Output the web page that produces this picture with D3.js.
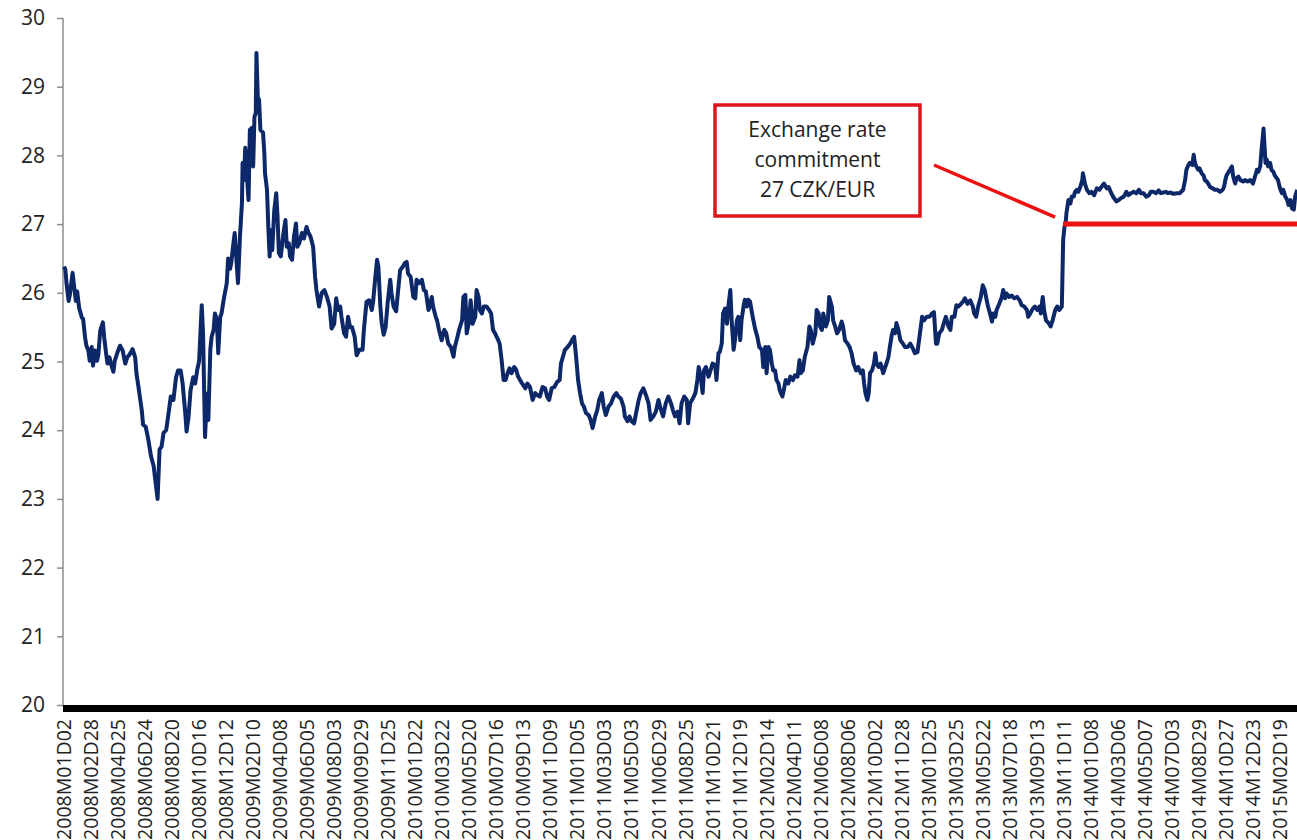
<!DOCTYPE html>
<html>
<head>
<meta charset="utf-8">
<script src="https://cdn.jsdelivr.net/npm/d3@7"></script>
<style>
  body { margin: 0; background: #fff; }
  svg { display: block; font-family: "Open Sans", sans-serif; }
</style>
</head>
<body>
<div id="chart"></div>
<script>
// trading day number (0 = 2008-01-02) and CZK per EUR
var obsDay = [0,2,4,7,9,13,15,18,20,23,27,29,32,34,37,39,42,44,47,50,52,55,59,61,64,66,69,72,75,77,81,85,89,93,96,100,104,108,110,113,115,118,120,124,128,132,136,139,142,145,148,151,155,158,162,166,170,173,177,180,184,186,189,192,196,199,202,205,
209,211,214,217,219,222,224,227,229,232,234,237,239,243,247,249,252,254,257,259,262,264,267,270,271,273,275,277,280,282,285,287,289,291,292,294,296,298,302,304,305,308,310,312,314,316,319,322,324,326,329,333,336,338,341,343,346,349,352,354,357,361,364,368,371,374,378,381,383,387,391,395,399,
403,406,410,413,416,419,421,425,428,431,434,437,441,444,448,453,455,459,463,467,469,472,475,477,480,482,485,488,491,495,497,500,504,507,510,514,517,520,522,526,530,533,535,539,543,546,549,553,555,558,560,564,566,569,573,577,580,583,587,591,593,597,600,604,606,609,611,614,617,620,624,626,629,631,634,637,641,645,648,651,654,658,661,664,667,670,673,676,679,683,686,689,692,695,700,703,707,711,715,718,722,726,730,733,736,740,744,748,752,754,757,760,764,
768,772,774,777,780,783,786,789,792,796,799,802,806,809,812,816,819,822,826,830,834,838,841,845,849,851,855,858,861,865,868,872,875,879,883,887,890,894,898,902,905,909,913,917,921,924,927,931,934,937,941,945,947,950,954,958,961,963,966,969,971,974,978,981,984,988,990,993,995,998,1000,1003,1006,1008,1011,1013,1016,1018,1021,1023,1026,1028,1031,1033,1036,1038,1041,1044,1046,1049,1052,1055,1059,1061,1064,1066,1069,1071,1074,1076,1079,1081,1084,1086,1090,1092,1095,1099,1102,1106,1109,1113,1116,1118,1121,1124,1128,1131,1133,1136,1140,1142,1145,
1147,1150,1152,1156,1159,1161,1165,1167,1170,1173,1176,1180,1182,1185,1189,1192,1195,1198,1202,1205,1209,1212,1214,1216,1219,1221,1223,1226,1229,1231,1233,1236,1239,1243,1246,1248,1251,1253,1256,1258,1261,1263,1266,1269,1273,1276,1280,1284,1288,1291,1295,1298,1302,1305,1309,1313,1317,1320,1323,1325,1328,1332,1335,1338,1342,1345,1347,1351,1354,1357,1361,1364,1367,1371,1375,1379,1381,1384,1387,1391,1394,1397,1400,1402,1405,1408,1410,1413,1415,1419,1423,1425,1428,1430,1434,1438,1442,1446,1450,1453,1457,1461,1463,1466,1470,1473,1477,1480,1482,1485,1487,1490,1494,1497,1500,1504,1507,1510,1514,1516,1518,1520,
1521,1524,1527,1529,1532,1534,1537,1539,1542,1545,1546,1549,1552,1556,1559,1563,1567,1571,1574,1578,1582,1585,1589,1593,1597,1600,1604,1608,1612,1615,1619,1623,1627,1631,1634,1638,1642,1646,1649,1653,1657,1661,1664,1668,1672,1675,1679,1683,1688,1693,1698,1701,1703,1706,1708,1712,1714,1716,1718,1721,1723,1726,1729,1731,1734,1736,1739,1743,1746,1750,1754,1758,1760,1762,1764,1767,1769,1772,1774,1777,1779,1782,1785,1789,1792,1796,1800,1804,1807,1810,1812,1815,1817,1820,1821,1823,1825,1827,1830,1832,1835,1837,1840,1842,1845,1848,1850,1853,1856,1858,1861,1863,1866,1868,1871];

var eurCzk = [26.38,26.34,26.12,25.88,25.98,26.29,26.12,25.88,26.02,25.78,25.64,25.62,25.35,25.23,25.16,25.01,25.21,24.94,25.16,25.01,25.09,25.45,25.57,25.35,25.11,24.97,25.06,24.94,24.85,25.01,25.13,25.23,25.16,24.97,25.06,25.11,25.18,25.06,24.82,24.63,24.49,24.29,24.08,24.05,23.86,23.62,23.48,23.24,23.00,23.72,23.76,23.96,24.00,24.20,24.49,24.44,24.77,24.87,24.87,24.68,24.25,23.98,24.20,24.58,24.77,24.68,24.87,25.01,
25.82,25.40,23.90,24.53,24.15,25.17,25.36,25.46,25.70,25.60,25.12,25.65,25.70,25.94,26.14,26.50,26.35,26.45,26.72,26.87,26.43,26.14,26.82,27.31,27.89,27.64,28.11,27.79,27.35,28.37,28.40,27.84,28.56,28.62,29.49,28.85,28.81,28.37,28.33,28.03,27.74,27.50,26.96,26.53,26.91,26.62,27.20,27.45,27.11,26.58,26.53,26.87,27.06,26.67,26.72,26.53,26.48,26.82,27.01,26.67,26.72,26.87,26.79,26.96,26.87,26.82,26.67,26.23,26.04,25.80,26.00,26.04,25.94,
25.80,25.48,25.55,25.92,25.75,25.80,25.65,25.41,25.36,25.65,25.50,25.50,25.36,25.09,25.17,25.17,25.46,25.87,25.89,25.75,25.87,26.19,26.48,26.38,25.80,25.56,25.39,25.50,25.85,26.19,25.99,25.80,25.73,26.04,26.33,26.38,26.43,26.45,26.28,26.23,25.94,25.92,26.19,26.14,26.19,26.04,26.02,25.75,25.80,25.94,25.80,25.65,25.60,25.46,25.31,25.46,25.41,25.26,25.21,25.07,25.21,25.36,25.48,25.60,25.94,25.97,25.41,25.55,25.89,25.55,25.65,26.04,25.94,25.75,25.70,25.80,25.80,25.75,25.70,25.46,25.41,25.33,25.26,25.02,24.73,24.73,24.83,24.90,24.83,24.92,24.88,24.78,24.73,24.68,24.61,24.68,24.63,24.44,24.54,24.51,24.49,24.63,24.61,24.49,24.44,24.61,24.63,24.70,24.73,24.97,25.07,25.17,25.21,
25.26,25.33,25.36,25.07,24.73,24.54,24.39,24.34,24.25,24.22,24.15,24.03,24.20,24.29,24.44,24.54,24.34,24.22,24.34,24.39,24.49,24.54,24.49,24.46,24.34,24.20,24.13,24.20,24.13,24.10,24.25,24.44,24.54,24.61,24.51,24.39,24.15,24.20,24.27,24.44,24.32,24.20,24.39,24.49,24.39,24.29,24.20,24.27,24.10,24.39,24.49,24.44,24.10,24.39,24.46,24.54,24.73,24.92,24.78,24.54,24.87,24.92,24.78,24.87,24.97,24.95,24.73,25.12,25.14,25.26,25.70,25.77,25.55,25.80,26.04,25.60,25.17,25.31,25.60,25.65,25.31,25.60,25.80,25.90,25.80,25.90,25.87,25.70,25.60,25.46,25.36,25.21,25.17,24.92,25.21,24.83,25.21,25.17,24.97,24.87,24.87,24.73,24.68,24.58,24.49,24.58,24.73,24.68,24.78,24.73,24.80,24.78,25.02,24.83,24.87,25.07,25.21,25.51,25.46,25.26,25.41,25.75,25.70,
25.51,25.46,25.70,25.51,25.60,25.94,25.80,25.60,25.51,25.41,25.46,25.58,25.51,25.31,25.26,25.21,25.12,24.97,24.87,24.92,24.83,24.87,24.68,24.54,24.44,24.54,24.83,24.87,24.97,25.12,24.97,24.92,24.97,24.83,24.92,24.97,25.07,25.21,25.39,25.46,25.41,25.56,25.46,25.31,25.26,25.21,25.21,25.26,25.19,25.12,25.14,25.36,25.65,25.60,25.65,25.65,25.70,25.72,25.26,25.26,25.41,25.46,25.56,25.65,25.51,25.46,25.65,25.65,25.82,25.80,25.84,25.87,25.92,25.84,25.89,25.80,25.70,25.65,25.80,25.94,26.11,26.04,25.89,25.80,25.70,25.58,25.70,25.65,25.75,25.84,25.94,26.04,25.92,25.99,25.94,25.96,25.92,25.94,25.89,25.82,25.80,25.75,25.65,25.70,25.77,25.80,25.75,25.80,25.70,25.94,25.75,25.60,25.56,25.51,25.60,25.75,25.80,25.75,25.80,26.77,26.96,27.04,
27.16,27.35,27.30,27.40,27.40,27.47,27.50,27.47,27.54,27.64,27.74,27.59,27.50,27.45,27.47,27.42,27.52,27.50,27.54,27.59,27.52,27.54,27.45,27.38,27.33,27.35,27.38,27.40,27.47,27.42,27.45,27.47,27.45,27.50,27.45,27.45,27.40,27.42,27.47,27.47,27.45,27.49,27.45,27.46,27.47,27.45,27.46,27.44,27.45,27.45,27.50,27.64,27.79,27.86,27.89,27.86,28.01,27.89,27.84,27.79,27.81,27.74,27.71,27.64,27.62,27.59,27.54,27.52,27.50,27.50,27.47,27.50,27.54,27.64,27.71,27.76,27.79,27.84,27.69,27.59,27.67,27.69,27.64,27.62,27.64,27.62,27.64,27.59,27.69,27.79,27.76,27.84,28.08,28.39,28.22,27.89,27.94,27.84,27.89,27.79,27.76,27.71,27.67,27.64,27.52,27.45,27.50,27.40,27.35,27.28,27.35,27.23,27.21,27.40,27.50];

// category labels, one every 41 trading days
var tickLabels = ["2008M01D02","2008M02D28","2008M04D25","2008M06D24","2008M08D20","2008M10D16","2008M12D12",
  "2009M02D10","2009M04D08","2009M06D05","2009M08D03","2009M09D29","2009M11D25",
  "2010M01D22","2010M03D22","2010M05D20","2010M07D16","2010M09D13","2010M11D09",
  "2011M01D05","2011M03D03","2011M05D03","2011M06D29","2011M08D25","2011M10D21","2011M12D19",
  "2012M02D14","2012M04D11","2012M06D08","2012M08D06","2012M10D02","2012M11D28",
  "2013M01D25","2013M03D25","2013M05D22","2013M07D18","2013M09D13","2013M11D11",
  "2014M01D08","2014M03D06","2014M05D07","2014M07D03","2014M08D29","2014M10D27","2014M12D23",
  "2015M02D19"];
var labelStep = 41;

var yTicks = [20, 21, 22, 23, 24, 25, 26, 27, 28, 29, 30];

// exchange rate floor from 2013-11-07
var floorValue = 27;
var floorStartDay = 1519;
var noteLines = ["Exchange rate", "commitment", "27 CZK/EUR"];

var W = 1297, H = 840;
var margin = {top: 18, left: 64, bottom: 135};

var svg = d3.select("#chart").append("svg")
    .attr("width", W)
    .attr("height", H);

var xScale = d3.scaleLinear()
    .domain([0, (tickLabels.length - 1) * labelStep])
    .range([margin.left, 1280]);

var yScale = d3.scaleLinear()
    .domain([20, 30])
    .range([H - margin.bottom, margin.top]);

// y axis
var yAxis = svg.append("g")
    .attr("transform", "translate(" + (margin.left - 1) + ",0)")
    .call(d3.axisLeft(yScale).tickValues(yTicks).tickSize(6).tickPadding(12).tickFormat(d3.format("d")));
yAxis.selectAll("line, path").attr("stroke", "#8c8c8c").attr("stroke-width", 1.5);
yAxis.select(".domain").attr("d", "M0," + yScale(30) + "V" + yScale(20));
yAxis.selectAll("text")
    .attr("fill", "#222")
    .style("font-size", "21px")
    .style("font-family", "Open Sans, sans-serif");

// thick x axis bar
svg.append("line")
    .attr("x1", margin.left - 1)
    .attr("x2", W)
    .attr("y1", yScale(20) + 3.5)
    .attr("y2", yScale(20) + 3.5)
    .attr("stroke", "#000")
    .attr("stroke-width", 7);

// x tick labels
svg.append("g")
  .selectAll("text")
  .data(tickLabels)
  .enter().append("text")
    .attr("transform", function(d, i) {
      return "translate(" + xScale(i * labelStep) + "," + (yScale(20) + 14) + ") rotate(-90)";
    })
    .attr("dy", "0.36em")
    .attr("text-anchor", "end")
    .attr("fill", "#222")
    .style("font-size", "19.5px")
    .text(function(d) { return d; });

// rate line
var series = obsDay.map(function(d, i) { return {day: d, rate: eurCzk[i]}; });
var line = d3.line()
    .x(function(d) { return xScale(d.day); })
    .y(function(d) { return yScale(d.rate); });

svg.append("path")
    .datum(series)
    .attr("fill", "none")
    .attr("stroke", "#0c2868")
    .attr("stroke-width", 4)
    .attr("stroke-linejoin", "round")
    .attr("d", line);

// commitment floor
svg.append("line")
    .attr("x1", xScale(floorStartDay) - 2)
    .attr("x2", W)
    .attr("y1", yScale(floorValue))
    .attr("y2", yScale(floorValue))
    .attr("stroke", "#ee1111")
    .attr("stroke-width", 5);

// annotation box and connector
var box = {x: 715, y: 105, w: 205, h: 111};
svg.append("rect")
    .attr("x", box.x).attr("y", box.y)
    .attr("width", box.w).attr("height", box.h)
    .attr("fill", "#fff")
    .attr("stroke", "#e0151b")
    .attr("stroke-width", 3.5);

svg.append("line")
    .attr("x1", 934).attr("y1", 165)
    .attr("x2", xScale(floorStartDay) - 10).attr("y2", yScale(floorValue) - 7)
    .attr("stroke", "#ee1111")
    .attr("stroke-width", 3.5);

svg.append("g")
  .selectAll("text")
  .data(noteLines)
  .enter().append("text")
    .attr("x", box.x + box.w / 2)
    .attr("y", function(d, i) { return 137 + i * 30; })
    .attr("text-anchor", "middle")
    .attr("fill", "#222")
    .style("font-size", "21px")
    .text(function(d) { return d; });
</script>
</body>
</html>
